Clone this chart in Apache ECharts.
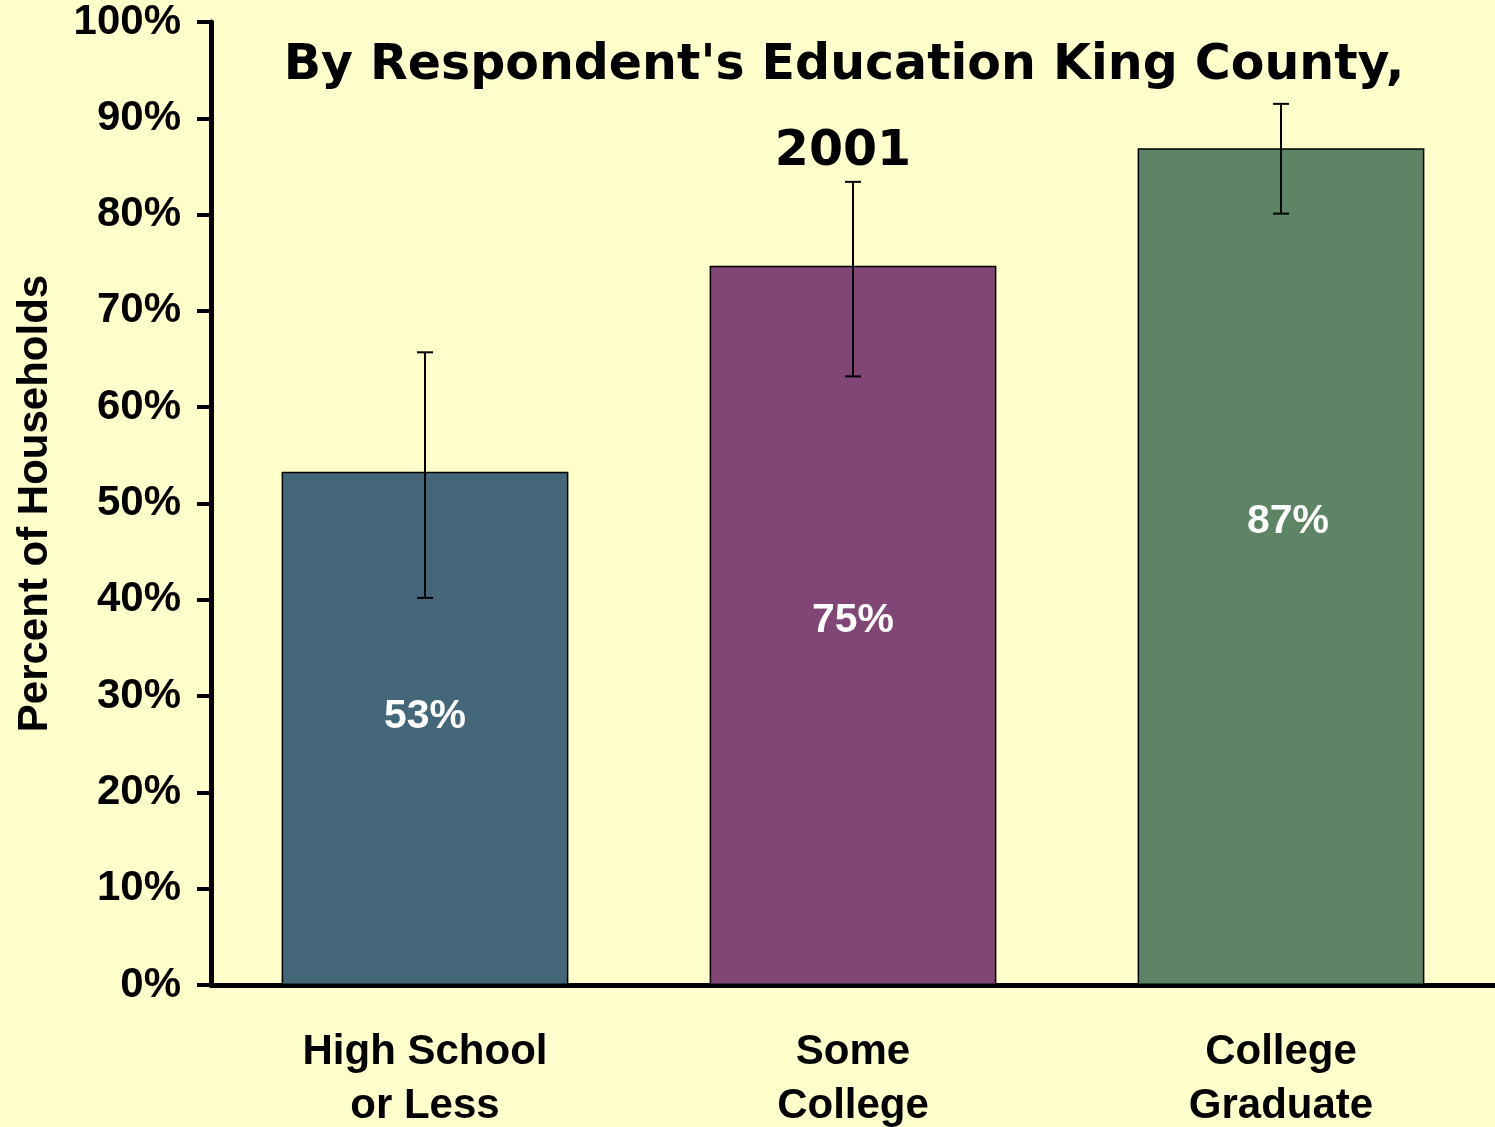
<!DOCTYPE html>
<html>
<head>
<meta charset="utf-8">
<script src="https://cdn.jsdelivr.net/npm/echarts@6/dist/echarts.min.js"></script>
<style>
html,body{margin:0;padding:0;background:#FFFFCC;}
#c{width:1495px;height:1127px;}
</style>
</head>
<body>
<div id="c"></div>
<script>
var categories = ['High School\nor Less', 'Some\nCollege', 'College\nGraduate'];
var values = [53.3, 74.7, 86.9];
var errLow = [40.2, 63.2, 80.1];
var errHigh = [65.7, 83.4, 91.5];
var labelTexts = ['53%', '75%', '87%'];
var yTicks = [0, 10, 20, 30, 40, 50, 60, 70, 80, 90, 100];
var barColors = ['#436779', '#814675', '#5D8465'];
var titleLines = ["By Respondent's Education King County,", '2001'];
var labelOffsets = [[0, -12], [0, -5], [7, -45]];

var chart = echarts.init(document.getElementById('c'), null, {renderer: 'canvas'});

var barData = values.map(function (v, i) {
  return {
    value: v,
    itemStyle: {color: barColors[i]},
    label: {offset: labelOffsets[i], formatter: labelTexts[i]}
  };
});
var errData = values.map(function (v, i) { return [i, errLow[i], errHigh[i]]; });
var AX = 'Liberation Sans, Arial, sans-serif';

var option = {
  backgroundColor: '#FFFFCC',
  animation: false,
  grid: {left: 211, right: 0, top: 22, bottom: 142, containLabel: false, outerBoundsMode: 'none'},
  xAxis: {
    type: 'category',
    data: categories,
    axisLine: {show: true, lineStyle: {color: '#000', width: 5}},
    axisTick: {show: false},
    axisLabel: {
      color: '#000', fontFamily: AX, fontWeight: 'bold',
      fontSize: 42, lineHeight: 54, margin: 40, interval: 0
    }
  },
  yAxis: {
    type: 'value',
    min: 0, max: 100, interval: 10,
    name: 'Percent of Households',
    nameLocation: 'middle',
    nameGap: 155,
    nameTextStyle: {color: '#000', fontFamily: AX, fontWeight: 'bold', fontSize: 42},
    axisLine: {show: true, lineStyle: {color: '#000', width: 5}},
    axisTick: {show: true, length: 14, lineStyle: {color: '#000', width: 4}},
    splitLine: {show: false},
    axisLabel: {
      color: '#000', fontFamily: AX, fontWeight: 'bold',
      fontSize: 42, margin: 30,
      formatter: function (v) { return yTicks.indexOf(v) >= 0 ? v + '%' : ''; }
    }
  },
  series: [
    {
      type: 'bar',
      data: barData,
      barWidth: '67%',
      itemStyle: {borderColor: '#000', borderWidth: 1.5},
      label: {
        show: true, position: 'inside', color: '#fff',
        fontFamily: AX, fontWeight: 'bold', fontSize: 41
      },
      z: 2
    },
    {
      type: 'custom',
      data: errData,
      z: 5,
      renderItem: function (params, api) {
        var x = api.value(0);
        var lo = api.coord([x, api.value(1)]);
        var hi = api.coord([x, api.value(2)]);
        var hw = 8;
        var st = {stroke: '#000', lineWidth: 2};
        return {
          type: 'group',
          children: [
            {type: 'line', shape: {x1: lo[0], y1: lo[1], x2: hi[0], y2: hi[1]}, style: st},
            {type: 'line', shape: {x1: lo[0] - hw, y1: lo[1], x2: lo[0] + hw, y2: lo[1]}, style: st},
            {type: 'line', shape: {x1: hi[0] - hw, y1: hi[1], x2: hi[0] + hw, y2: hi[1]}, style: st}
          ]
        };
      }
    }
  ],
  graphic: [
    {
      type: 'text', x: 844, y: 66, z: 10,
      style: {
        text: titleLines[0], textAlign: 'center', textVerticalAlign: 'middle',
        fontFamily: '"Comic Sans MS", "DejaVu Sans", sans-serif', fontWeight: 'bold', fontSize: 49,
        fill: '#000'
      }
    },
    {
      type: 'text', x: 843, y: 152, z: 10,
      style: {
        text: titleLines[1], textAlign: 'center', textVerticalAlign: 'middle',
        fontFamily: '"Comic Sans MS", "DejaVu Sans", sans-serif', fontWeight: 'bold', fontSize: 49,
        fill: '#000'
      }
    }
  ]
};
chart.setOption(option);
</script>
</body>
</html>
